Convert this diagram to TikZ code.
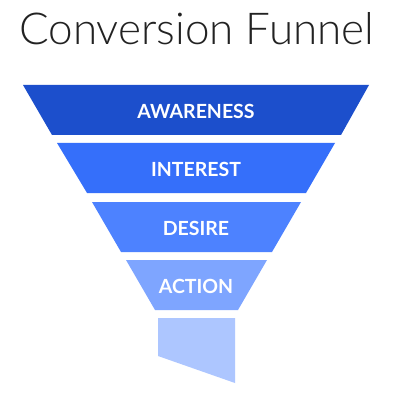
\documentclass[tikz,border=0pt]{standalone}
\usepackage{fontspec}
\setmainfont{Lato}
\newfontfamily\titlefont{Lato Light}
\definecolor{bandA}{HTML}{1C4FCC}
\definecolor{bandB}{HTML}{356FFA}
\definecolor{bandC}{HTML}{4D82FF}
\definecolor{bandD}{HTML}{7EA5FF}
\definecolor{bandE}{HTML}{ADC6FF}
\definecolor{titlegray}{HTML}{222222}
\begin{document}
\begin{tikzpicture}[x=1pt,y=-1pt,
  label/.style={text=white,font=\fontsize{19.5}{19.5}\selectfont\bfseries,inner sep=0pt}]
\useasboundingbox[fill=white] (0,0) rectangle (404,406);
\node[text=titlegray,font=\titlefont\fontsize{44}{44}\selectfont,anchor=base west,inner sep=0pt] (title) at (19,45) {Conversion Funnel};
\fill[bandA] (23,85) -- (369,85) -- (341,135) -- (52,135) -- cycle;
\node[label] (awareness) at (196,111) {AWARENESS};
\fill[bandB] (57,143) -- (335,143) -- (306,193) -- (87,193) -- cycle;
\node[label] (interest) at (196,169) {INTEREST};
\fill[bandC] (92,202) -- (301,202) -- (272,252) -- (121,252) -- cycle;
\node[label] (desire) at (196,228) {DESIRE};
\fill[bandD] (126,260) -- (267,260) -- (238,310) -- (155,310) -- cycle;
\node[label] (action) at (196,286) {ACTION};
\fill[bandE] (158,318) -- (235,318) -- (235,383) -- (158,356) -- cycle;
\end{tikzpicture}
\end{document}
